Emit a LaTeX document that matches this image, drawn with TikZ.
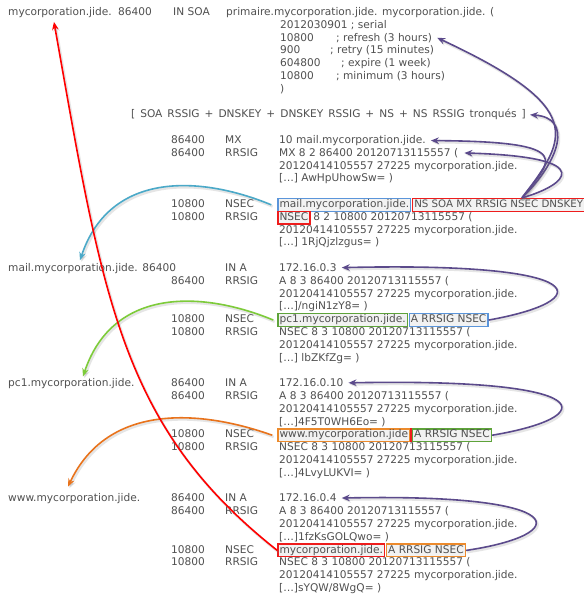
\documentclass[tikz,border=0pt]{standalone}
\usepackage{fontspec}
\setmainfont{DejaVu Sans}
\usetikzlibrary{arrows.meta}
\definecolor{txtgray}{HTML}{505050}
\definecolor{redl}{HTML}{FF0000}
\definecolor{redb}{HTML}{EE1C1C}
\definecolor{bluel}{HTML}{4BA9C8}
\definecolor{blueb}{HTML}{5B95DA}
\definecolor{greenl}{HTML}{7DCB3A}
\definecolor{greenb}{HTML}{5EA33A}
\definecolor{orangel}{HTML}{E8731C}
\definecolor{orangeb}{HTML}{EC8A2C}
\definecolor{purp}{HTML}{5B4A8B}
\newcommand\rt[4]{\node[tx] (#1) at (#2,{15.5+12.8*(#3)}) {#4};}
\newcommand\rb[5]{\node[bx,draw=#5] (#1) at (#2,{15.5+12.8*(#3)}) {#4};}
\begin{document}
\begin{tikzpicture}[x=1pt,y=-1pt,
  every node/.style={font=\fontsize{10.6}{12.5}\selectfont},
  tx/.style={anchor=base west, inner sep=0pt, text=txtgray},
  bx/.style={anchor=base west, inner xsep=1.6pt, inner ysep=1.3pt, text height=7.7pt, text depth=2.4pt, line width=1.3pt, fill=black!5, text=txtgray},
  shd/.style={preaction={draw=black!55, opacity=0.18, line width=2.4pt, transform canvas={shift={(1.3pt,-1.7pt)}}}},
  arr/.style={shd, line width=1.6pt, -{Stealth[length=8pt,width=6.5pt]}},
  parr/.style={arr, draw=purp}]
\useasboundingbox[fill=white] (0,0) rectangle (584,595);
% SOA block
\rt{s0n}{8}{0}{mycorporation.jide.}
\rt{s0t}{118}{0}{86400}
\rt{s0y}{173}{0}{IN SOA}
\rt{s0d}{226}{0}{primaire.mycorporation.jide. mycorporation.jide. (}
\rt{s1}{280}{1}{2012030901 ; serial}
\rt{s2n}{280}{2}{10800}
\rt{s2c}{336}{2}{; refresh (3 hours)}
\rt{s3n}{280}{3}{900}
\rt{s3c}{330}{3}{; retry (15 minutes)}
\rt{s4n}{280}{4}{604800}
\rt{s4c}{341}{4}{; expire (1 week)}
\rt{s5n}{280}{5}{10800}
\rt{s5c}{336}{5}{; minimum (3 hours)}
\rt{s6}{280}{6}{)}
\rt{tr}{131}{8}{\spaceskip=5pt plus 0pt[ SOA RSSIG + DNSKEY + DNSKEY RSSIG + NS + NS RSSIG tronqués ]}
% MX block
\rt{m10t}{171}{10}{86400}
\rt{m10y}{225}{10}{MX}
\rt{m10d}{279}{10}{10 mail.mycorporation.jide.}
\rt{m11t}{171}{11}{86400}
\rt{m11y}{225}{11}{RRSIG}
\rt{m11d}{279}{11}{MX 8 2 86400 20120713115557 (}
\rt{m12}{279}{12}{20120414105557 27225 mycorporation.jide.}
\rt{m13}{279}{13}{[…] AwHpUhowSw= )}
\rt{m15t}{171}{15}{10800}
\rt{m15y}{225}{15}{NSEC}
\rb{b15a}{277.3}{15}{mail.mycorporation.jide.}{blueb}
\node[bx,draw=redb,font=\fontsize{10.25}{12.5}\selectfont] (b15b) at ([xshift=0.6pt]b15a.base east) {NS SOA MX RRSIG NSEC DNSKEY};
\rt{m16t}{171}{16}{10800}
\rt{m16y}{225}{16}{RRSIG}
\rb{b16a}{277.3}{16}{NSEC}{redb}
\node[tx] (m16d) at ([xshift=2.6pt]b16a.base east) {8 2 10800 20120713115557 (};
\rt{m17}{279}{17}{20120414105557 27225 mycorporation.jide.}
\rt{m18}{279}{18}{[…] 1RjQjzlzgus= )}
% mail block
\rt{a20n}{8}{20}{mail.mycorporation.jide. 86400}
\rt{a20y}{225}{20}{IN A}
\rt{a20d}{279}{20}{172.16.0.3}
\rt{a21t}{171}{21}{86400}
\rt{a21y}{225}{21}{RRSIG}
\rt{a21d}{279}{21}{A 8 3 86400 20120713115557 (}
\rt{a22}{279}{22}{20120414105557 27225 mycorporation.jide.}
\rt{a23}{279}{23}{[…]/ngiN1zY8= )}
\rt{a24t}{171}{24}{10800}
\rt{a24y}{225}{24}{NSEC}
\rb{b24a}{277.3}{24}{pc1.mycorporation.jide.}{greenb}
\node[bx,draw=blueb] (b24b) at ([xshift=0.6pt]b24a.base east) {A RRSIG NSEC};
\rt{a25t}{171}{25}{10800}
\rt{a25y}{225}{25}{RRSIG}
\rt{a25d}{279}{25}{NSEC 8 3 10800 20120713115557 (}
\rt{a26}{279}{26}{20120414105557 27225 mycorporation.jide.}
\rt{a27}{279}{27}{[…] lbZKfZg= )}
% pc1 block
\rt{p29n}{8}{29}{pc1.mycorporation.jide.}
\rt{p29t}{171}{29}{86400}
\rt{p29y}{225}{29}{IN A}
\rt{p29d}{279}{29}{172.16.0.10}
\rt{p30t}{171}{30}{86400}
\rt{p30y}{225}{30}{RRSIG}
\rt{p30d}{279}{30}{A 8 3 86400 20120713115557 (}
\rt{p31}{279}{31}{20120414105557 27225 mycorporation.jide.}
\rt{p32}{279}{32}{[…]4F5T0WH6Eo= )}
\rt{p33t}{171}{33}{10800}
\rt{p33y}{225}{33}{NSEC}
\rb{b33a}{277.3}{33}{www.mycorporation.jide}{orangeb}
\node[bx,draw=greenb] (b33b) at ([xshift=1.6pt]b33a.base east) {A RRSIG NSEC};
\draw[redb,line width=1.6pt] ([xshift=0.8pt]b33a.north east) -- ([xshift=0.8pt]b33a.south east);
\rt{p34t}{171}{34}{10800}
\rt{p34y}{225}{34}{RRSIG}
\rt{p34d}{279}{34}{NSEC 8 3 10800 20120713115557 (}
\rt{p35}{279}{35}{20120414105557 27225 mycorporation.jide.}
\rt{p36}{279}{36}{[…]4LvyLUKVI= )}
% www block
\rt{w38n}{8}{38}{www.mycorporation.jide.}
\rt{w38t}{171}{38}{86400}
\rt{w38y}{225}{38}{IN A}
\rt{w38d}{279}{38}{172.16.0.4}
\rt{w39t}{171}{39}{86400}
\rt{w39y}{225}{39}{RRSIG}
\rt{w39d}{279}{39}{A 8 3 86400 20120713115557 (}
\rt{w40}{279}{40}{20120414105557 27225 mycorporation.jide.}
\rt{w41}{279}{41}{[…]1fzKsGOLQwo= )}
\rt{w42t}{171}{42}{10800}
\rt{w42y}{225}{42}{NSEC}
\rb{b42a}{277.3}{42}{mycorporation.jide.}{redb}
\node[bx,draw=orangeb] (b42b) at ([xshift=0.6pt]b42a.base east) {A RRSIG NSEC};
\rt{w43t}{171}{43}{10800}
\rt{w43y}{225}{43}{RRSIG}
\rt{w43d}{279}{43}{NSEC 8 3 10800 20120713115557 (}
\rt{w44}{279}{44}{20120414105557 27225 mycorporation.jide.}
\rt{w45}{279}{45}{[…]sYQW/8WgQ= )}
% hub for upper purple arrows
\coordinate (hub) at ([xshift=110pt]b15b.north west);
% purple arrows
\draw[parr] (hub) .. controls +(46,-60) and +(150,70) .. ([xshift=5pt]s2c.east);
\draw[parr] (hub) .. controls +(38,-37) and +(43,3) .. ([xshift=4pt]tr.east);
\draw[parr] (hub) .. controls +(28,-37) and +(150,1) .. ([xshift=5pt]m10d.east);
\draw[parr] (hub) .. controls +(43,-12) and +(138,4) .. ([xshift=6pt]m11d.east);
\draw[parr] (b24b.east) .. controls +(107,-19) and +(257,-6) .. ([xshift=5pt]a20d.east);
\draw[parr] (b33b.east) .. controls +(108,-18) and +(255,-5) .. ([xshift=5pt]p29d.east);
\draw[parr] (b42b.east) .. controls +(108,-16) and +(233,-5) .. ([xshift=5pt]w38d.east);
% coloured arrows to the left
\draw[arr,draw=bluel] ([xshift=-6pt]b15a.west) .. controls +(-70,-29) and +(30,-90) .. ([xshift=72pt,yshift=3pt]a20n.north west);
\draw[arr,draw=greenl] ([xshift=-4pt]b24a.west) .. controls +(-70,-29) and +(30,-90) .. ([xshift=75pt,yshift=2pt]p29n.north west);
\draw[arr,draw=orangel] ([xshift=-5pt]b33a.west) .. controls +(-70,-25) and +(40,-85) .. ([xshift=60pt,yshift=7pt]w38n.north west);
\draw[arr,draw=redl] (b42a.west) .. controls +(-157,-124) and +(49,276) .. ([xshift=-6pt,yshift=-4pt]s0n.south);
\end{tikzpicture}
\end{document}
